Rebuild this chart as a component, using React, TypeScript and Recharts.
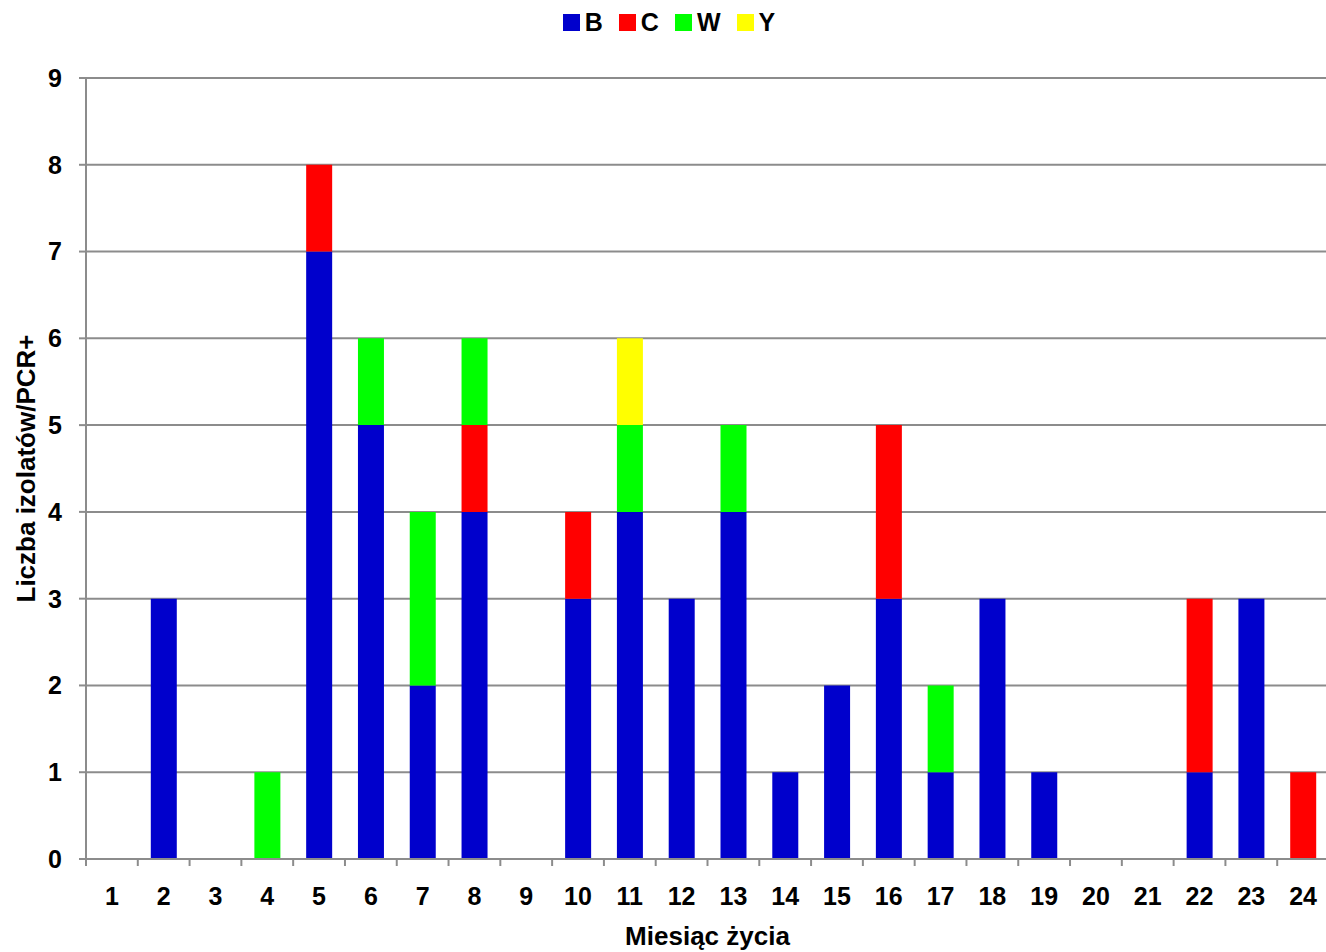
import { BarChart, Bar, XAxis, YAxis, CartesianGrid, Legend } from "recharts";

if (typeof document !== "undefined") {
  document.body.style.margin = "0";
}

const months = ["1", "2", "3", "4", "5", "6", "7", "8", "9", "10", "11", "12", "13", "14", "15", "16", "17", "18", "19", "20", "21", "22", "23", "24"];
const seriesB = [0, 3, 0, 0, 7, 5, 2, 4, 0, 3, 4, 3, 4, 1, 2, 3, 1, 3, 1, 0, 0, 1, 3, 0];
const seriesC = [0, 0, 0, 0, 1, 0, 0, 1, 0, 1, 0, 0, 0, 0, 0, 2, 0, 0, 0, 0, 0, 2, 0, 1];
const seriesW = [0, 0, 0, 1, 0, 1, 2, 1, 0, 0, 1, 0, 1, 0, 0, 0, 1, 0, 0, 0, 0, 0, 0, 0];
const seriesY = [0, 0, 0, 0, 0, 0, 0, 0, 0, 0, 1, 0, 0, 0, 0, 0, 0, 0, 0, 0, 0, 0, 0, 0];
const yTicks = [0, 1, 2, 3, 4, 5, 6, 7, 8, 9];

const data = months.map((m, i) => ({
  month: m,
  B: seriesB[i],
  C: seriesC[i],
  W: seriesW[i],
  Y: seriesY[i],
}));

const WIDTH = 1326;
const HEIGHT = 952;
const LEFT = 86;
const RIGHT = -3; // plot runs a little past the right edge in the original
const BAND = (WIDTH - RIGHT - LEFT) / months.length;
const FONT = "'Liberation Sans', Arial, sans-serif";
const AXIS = "#8c8c8c";

function MonthTick(props: any) {
  const { x, y, payload } = props;
  const axisY = y - 28;
  return (
    <g>
      <line x1={x - BAND / 2} x2={x - BAND / 2} y1={axisY} y2={axisY + 7} stroke={AXIS} strokeWidth={2} />
      <text x={x} y={y} dy="0.71em" textAnchor="middle" fontFamily={FONT} fontWeight="bold" fontSize={25} fill="#000">
        {payload.value}
      </text>
    </g>
  );
}

function LegendBox({ payload }: any) {
  return (
    <div style={{ height: 78, display: "flex", justifyContent: "center", paddingLeft: 12, boxSizing: "border-box" }}>
      <div style={{ height: 44, display: "flex", alignItems: "center", gap: 16 }}>
        {(payload || []).map((item: any) => (
          <div key={item.value} style={{ display: "flex", alignItems: "center", gap: 5 }}>
            <span style={{ width: 17, height: 17, background: item.color, display: "inline-block" }} />
            <span style={{ fontFamily: FONT, fontWeight: "bold", fontSize: 25, color: "#000", lineHeight: "25px" }}>
              {item.value}
            </span>
          </div>
        ))}
      </div>
    </div>
  );
}

export default function App() {
  return (
    <BarChart
      width={WIDTH}
      height={HEIGHT}
      data={data}
      margin={{ top: 0, right: RIGHT, bottom: 0, left: 0 }}
      barSize={26}
    >
      <Legend verticalAlign="top" align="center" wrapperStyle={{ top: 0, left: 0, width: WIDTH }} content={<LegendBox />} />
      <CartesianGrid vertical={false} stroke={AXIS} strokeWidth={2} />
      <XAxis
        dataKey="month"
        height={93}
        stroke={AXIS}
        strokeWidth={2}
        tickLine={false}
        tickSize={0}
        tickMargin={28}
        interval={0}
        tick={<MonthTick />}
        label={{
          value: "Miesiąc życia",
          position: "insideBottom",
          offset: 7,
          style: { fontFamily: FONT, fontWeight: "bold", fontSize: 26, fill: "#000" },
        }}
      />
      <YAxis
        width={LEFT}
        domain={[0, 9]}
        ticks={yTicks}
        interval={0}
        stroke={AXIS}
        strokeWidth={2}
        tickSize={7}
        tickMargin={17}
        tick={{ fontFamily: FONT, fontWeight: "bold", fontSize: 25, fill: "#000" }}
        label={{
          value: "Liczba izolatów/PCR+",
          angle: -90,
          position: "insideLeft",
          offset: 26,
          style: { textAnchor: "middle", fontFamily: FONT, fontWeight: "bold", fontSize: 26, fill: "#000" },
        }}
      />
      <Bar dataKey="B" stackId="a" fill="#0000CC" isAnimationActive={false} />
      <Bar dataKey="C" stackId="a" fill="#FF0000" isAnimationActive={false} />
      <Bar dataKey="W" stackId="a" fill="#00FF00" isAnimationActive={false} />
      <Bar dataKey="Y" stackId="a" fill="#FFFF00" isAnimationActive={false} />
    </BarChart>
  );
}
